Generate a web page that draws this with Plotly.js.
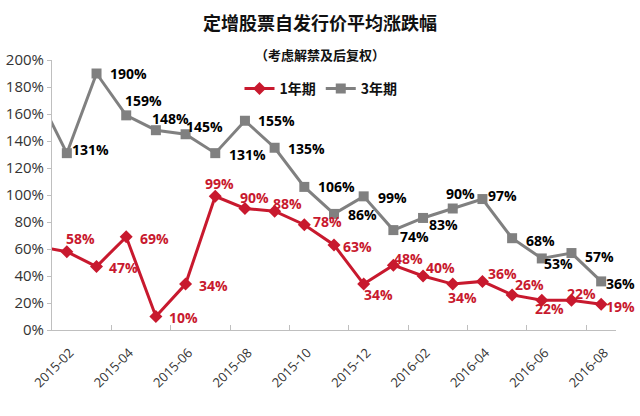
<!DOCTYPE html>
<html>
<head>
<meta charset="utf-8">
<script src="https://cdn.plot.ly/plotly-3.0.1.min.js"></script>
<style>html,body{margin:0;padding:0;background:#fff;}#chart{width:640px;height:416px;}</style>
</head>
<body>
<div id="chart"></div>
<script>
// Months (2015-01 is only partly visible at the left edge of the chart)
var months = ['2015-01','2015-02','2015-03','2015-04','2015-05','2015-06','2015-07','2015-08','2015-09','2015-10','2015-11','2015-12','2016-01','2016-02','2016-03','2016-04','2016-05','2016-06','2016-07','2016-08'];
var oneYear = [62, 58, 47, 69, 10, 34, 99, 90, 88, 78, 63, 34, 48, 40, 34, 36, 26, 22, 22, 19];
var threeYear = [175, 131, 190, 159, 148, 145, 131, 155, 135, 106, 86, 99, 74, 83, 90, 97, 68, 53, 57, 36];
var tickLabels = ['2015-02','2015-04','2015-06','2015-08','2015-10','2015-12','2016-02','2016-04','2016-06','2016-08'];
var seriesNames = ['1年期', '3年期'];
var titleText = '定增股票自发行价平均涨跌幅';
var subtitleText = '（考虑解禁及后复权）';

// label offsets in pixels (dx right, dy down) from each labelled point, 2015-02 .. 2016-08
var redOff = [[14,-13],[27,1],[28,2],[28,1],[28,1],[4,-13],[10,-11],[13,-8],[23,-3],[23,2],[15,10],[15,-7],[17,-9],[10,13],[20,-8],[17,-10],[8,8],[10,-7],[19,2]];
var grayOff = [[24,-4],[32,0],[17,-15],[15,-12],[19,-8],[32,1],[32,0],[32,1],[32,0],[28,1],[29,1],[21,6],[20,7],[8,-15],[20,-4],[28,2],[17,5],[28,3],[19,2]];

var idx = months.map(function(m, i){ return i - 1; });
var labelIdx = tickLabels.map(function(t){ return months.indexOf(t) - 1; });
var tickPos = labelIdx.map(function(i){ return i - 0.5; });

var red = '#c8192e', gray = '#808080';
var lblFont = 'Open Sans, Noto Sans CJK SC, sans-serif';

var traces = [
  {x: idx, y: oneYear, name: seriesNames[0], type: 'scatter', mode: 'lines+markers',
   line: {color: red, width: 3}, marker: {symbol: 'diamond', size: 10, color: red}, cliponaxis: true},
  {x: idx, y: threeYear, name: seriesNames[1], type: 'scatter', mode: 'lines+markers',
   line: {color: gray, width: 3}, marker: {symbol: 'square', size: 10, color: gray}, cliponaxis: true}
];

var annotations = [{text: subtitleText, xref: 'paper', x: (320-52)/564, yref: 'paper', y: (330-55)/270,
    showarrow: false, xanchor: 'center', yanchor: 'middle',
    font: {family: 'Noto Sans CJK SC, sans-serif', size: 13, color: '#111', weight: 'bold'}}];

function addLabels(vals, offs, color){
  for (var i = 1; i < vals.length; i++) {
    var o = offs[i - 1];
    annotations.push({x: idx[i], y: vals[i], xref: 'x', yref: 'y', text: vals[i] + '%', showarrow: false,
      xanchor: 'center', yanchor: 'middle', xshift: o[0], yshift: -o[1],
      font: {family: lblFont, size: 14, color: color, weight: 'bold'}});
  }
}
addLabels(oneYear, redOff, red);
addLabels(threeYear, grayOff, '#000');

var layout = {
  width: 640, height: 416,
  margin: {l: 52, r: 24, t: 60, b: 86, autoexpand: false},
  paper_bgcolor: '#fff', plot_bgcolor: '#fff',
  font: {family: lblFont, color: '#333'},
  title: {text: titleText, x: 0.5, xref: 'container', y: 1 - 24/416, yref: 'container', yanchor: 'middle',
          font: {family: 'Noto Sans CJK SC, sans-serif', size: 18, color: '#111', weight: 'bold'}},
  annotations: annotations,
  showlegend: true,
  legend: {orientation: 'h', xref: 'paper', x: (321-52)/564, xanchor: 'center', yref: 'paper', y: (330-89)/270, yanchor: 'middle',
           traceorder: 'normal', font: {family: 'Noto Sans CJK SC, sans-serif', size: 14, color: '#111', weight: 'bold'}, bgcolor: 'rgba(0,0,0,0)'},
  xaxis: {range: [-0.5, 18.5], showgrid: false, zeroline: false, showline: true, linecolor: '#bfbfbf', linewidth: 1,
          tickmode: 'array', tickvals: tickPos, ticktext: tickLabels, ticks: 'inside', ticklen: 5, tickcolor: '#bfbfbf',
          tickangle: -45, ticklabelshift: 18, ticklabelstandoff: 9,
          tickfont: {family: lblFont, size: 13, color: '#333'}},
  yaxis: {range: [0, 200], dtick: 20, tick0: 0, ticksuffix: '%', showgrid: false, zeroline: false, showline: true,
          linecolor: '#bfbfbf', linewidth: 1, ticks: 'outside', ticklen: 4, tickcolor: '#bfbfbf',
          tickfont: {family: lblFont, size: 15, color: '#333'}}
};

Plotly.newPlot('chart', traces, layout, {displayModeBar: false, staticPlot: true});
</script>
</body>
</html>
